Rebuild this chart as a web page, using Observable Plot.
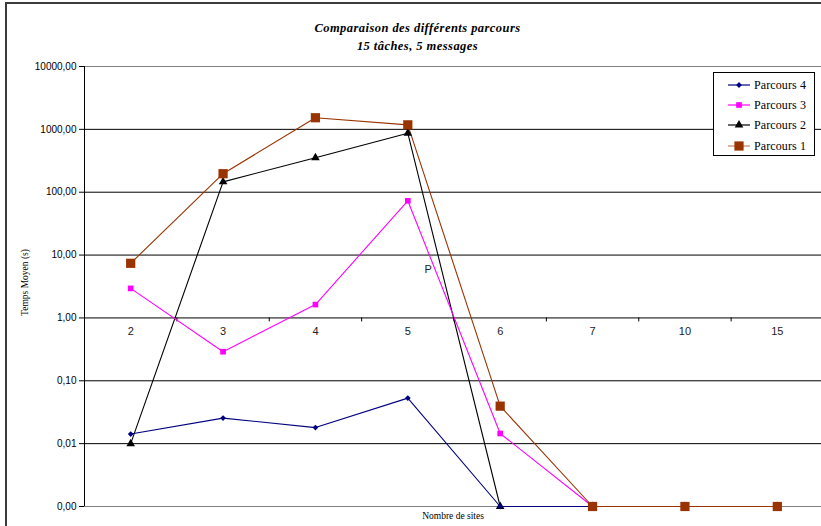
<!DOCTYPE html>
<html>
<head>
<meta charset="utf-8">
<script src="https://cdn.jsdelivr.net/npm/d3@7"></script>
<script src="https://cdn.jsdelivr.net/npm/@observablehq/plot@0.6"></script>
<style>
  html, body { margin: 0; padding: 0; background: #fff; overflow: hidden; }
  #wrap { position: relative; width: 821px; height: 526px; overflow: hidden; }
  #frame { position: absolute; left: 5px; top: 2px; width: 900px; height: 600px;
           border-left: 2px solid #3c3c3c; border-top: 2px solid #3c3c3c; pointer-events: none; }
  #title { position: absolute; left: 0; width: 835px; top: 20px; text-align: center;
           font-family: "Liberation Serif", "Times New Roman", serif; font-weight: bold; font-style: italic;
           font-size: 12.5px; line-height: 17.5px; letter-spacing: 0.45px; color: #000; }
  #legend { position: absolute; left: 713px; top: 72px; width: 102px; height: 84px;
            border: 1px solid #000; background: #fff; box-sizing: border-box; }
  .item { position: absolute; left: 14px; height: 14px; display: flex; align-items: center; color: #000; }
  .item span { font-family: "Liberation Serif", "Times New Roman", serif; font-size: 12px; letter-spacing: 0.1px; }
  .item svg { margin-right: 4px; }
  #chart { position: absolute; left: 0; top: 0; }
</style>
</head>
<body>
<div id="wrap">
  <div id="chart"></div>
  <div id="frame"></div>
  <div id="title">Comparaison des différents parcours<br>15 tâches, 5 messages</div>
  <div id="legend"></div>
</div>
<script>
// ---- data ----
const sites = ["2", "3", "4", "5", "6", "7", "10", "15"];
const parcours1 = [7.4, 197, 1530, 1180, 0.0395, 0, 0, 0];
const parcours2 = [0.01, 146, 354, 870, 0, 0, 0, 0];
const parcours3 = [2.95, 0.29, 1.63, 73, 0.0145, 0, 0, 0];
const parcours4 = [0.0142, 0.0255, 0.018, 0.053, 0, 0, 0, 0];
const yTicks = [0.001, 0.01, 0.1, 1, 10, 100, 1000, 10000];
const seriesNames = ["Parcours 4", "Parcours 3", "Parcours 2", "Parcours 1"];
const annotations = [{pos: 3.22, value: 5.8, text: "P"}];

const yMin = 0.001;
const series = [
  {name: "Parcours 2", values: parcours2, color: "#000000", mark: "#000000", symbol: "triangle", r: 3.2},
  {name: "Parcours 4", values: parcours4, color: "#000080", mark: "#000080", symbol: "diamond2", r: 2.6},
  {name: "Parcours 3", values: parcours3, color: "#ff00ff", mark: "#ff00ff", symbol: "square", r: 3.2},
  {name: "Parcours 1", values: parcours1, color: "#993300", mark: "#993300", symbol: "square", r: 5.2}
];
const rows = series.flatMap(s => s.values.map((v, i) => ({name: s.name, i, v: Math.max(v, yMin)})));

const fmt = d => d3.format(".2f")(d).replace(".", ",");
const bounds = sites.slice(0, -1).map((_, i) => i + 0.5);

const marks = [
  Plot.ruleY(yTicks.filter(t => t > yMin && t < 10000), {stroke: "#000", strokeWidth: 1}),
  Plot.ruleY([10000], {stroke: "#808080", strokeWidth: 1}),
  Plot.ruleY([yMin], {stroke: "#808080", strokeWidth: 1}),
  Plot.ruleX(bounds, {x: d => d, y1: () => 1, y2: () => 1, insetBottom: -4, stroke: "#000", strokeWidth: 1}),
  Plot.text(sites, {x: (d, i) => i, y: () => 1, text: d => d, dy: 14, fontSize: 11, fill: "#222"}),
  Plot.text(annotations, {x: "pos", y: "value", text: "text", fontSize: 11, fill: "#222"}),
  Plot.text(["Temps Moyen (s)"], {frameAnchor: "left", textAnchor: "middle", text: d => d, rotate: -90, dx: -60, dy: -4,
    fontFamily: "Liberation Serif, Times New Roman, serif", fontSize: 9.5}),
  Plot.text(["Nombre de sites"], {frameAnchor: "bottom", text: d => d, dy: 12,
    fontFamily: "Liberation Serif, Times New Roman, serif", fontSize: 9.5})
];
for (const s of series) {
  const data = rows.filter(r => r.name === s.name);
  marks.push(Plot.line(data, {x: "i", y: "v", stroke: s.color, strokeWidth: 1.1}));
}
for (const s of series) {
  const data = rows.filter(r => r.name === s.name);
  marks.push(Plot.dot(data, {x: "i", y: "v", symbol: () => s.symbol, r: s.r, fill: s.mark, stroke: "none"}));
}
marks.push(Plot.ruleX([-0.5], {y1: () => yMin, y2: () => 10000, stroke: "#000", strokeWidth: 1}));

const chart = Plot.plot({
  width: 821,
  height: 526,
  marginLeft: 84,
  marginRight: 0,
  marginTop: 66,
  marginBottom: 20,
  style: {fontFamily: "Liberation Sans, Arial, sans-serif", fontSize: "10px", background: "transparent", overflow: "hidden"},
  x: {type: "linear", domain: [-0.5, sites.length - 0.5], range: [84, 823], axis: null},
  y: {type: "log", domain: [yMin, 10000], range: [506, 66], ticks: yTicks, tickFormat: fmt,
      tickSize: 5, tickPadding: 3, label: null},
  symbol: {type: "identity"},
  marks
});
document.getElementById("chart").appendChild(chart);

// ---- legend ----
const legend = document.getElementById("legend");
const legendTops = [5, 25, 45, 66];
const byName = Object.fromEntries(series.map(s => [s.name, s]));
seriesNames.forEach((name, k) => {
  const s = byName[name];
  const item = document.createElement("div");
  item.className = "item";
  item.style.top = legendTops[k] + "px";
  const sym = d3.symbol(s.symbol === "diamond2" ? d3.symbolDiamond2 : s.symbol === "triangle" ? d3.symbolTriangle : d3.symbolSquare,
                        Math.PI * s.r * s.r)();
  item.innerHTML = `<svg width="22" height="14"><line x1="0" x2="22" y1="7" y2="7" stroke="${s.color}" stroke-width="1.2" opacity="${name === "Parcours 1" ? 0.6 : 1}"/>` +
    `<path d="${sym}" transform="translate(11,7)" fill="${s.mark}"/></svg><span>${name}</span>`;
  legend.appendChild(item);
});
</script>
</body>
</html>
